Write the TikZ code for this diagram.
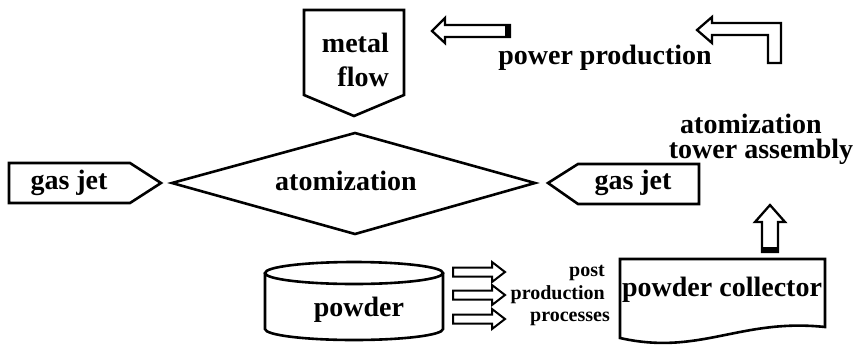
\documentclass[tikz,border=0pt]{standalone}
\usepackage{fontspec}
\setmainfont{Liberation Serif}
\begin{document}
\begin{tikzpicture}[
        x=1pt, y=-1pt,
        font=\bfseries\fontsize{28}{30}\selectfont,
        outline/.style={
            draw=black, line width=2.6pt,
            line join=miter, fill=white
        },
        blockarr/.style={
            draw=black, line width=2.3pt,
            line join=miter, fill=white
        },
        plug/.style={fill=black},
        txt/.style={inner sep=0pt, align=center},
        smalltxt/.style={
            inner sep=0pt, anchor=east,
            font=\bfseries\fontsize{20}{22}\selectfont
        }
    ]

    % canvas
    \fill[white] (0,0) rectangle (856,346);
    \useasboundingbox (0,0) rectangle (856,346);

    % Metal flow on top
    \draw[outline] (304,10) -- (404,10) -- (404,95) -- (354,116)
        -- (304,95) -- cycle;
    \node[txt, align=right, anchor=east,
          font=\bfseries\fontsize{28}{34}\selectfont]
        (metal) at (389,60) {metal\\flow};

    % Atomization diamond
    \draw[outline] (172,183) -- (355,133) -- (535,183) -- (355,234) -- cycle;
    \node[txt] (atom) at (346,181) {atomization};

    % Gas jets
    \draw[outline] (9,163) -- (130,163) -- (161,183) -- (130,203)
        -- (9,203) -- cycle;
    \node[txt] (jetl) at (69,183) {gas jet};
    \draw[outline] (548,183) -- (578,164) -- (699,164) -- (699,204)
        -- (578,204) -- cycle;
    \node[txt] (jetr) at (633,183) {gas jet};

    % Power production arrows
    \draw[blockarr] (432,31) -- (445,18) -- (445,25) -- (510,25)
        -- (510,37) -- (445,37) -- (445,43) -- cycle;
    \fill[plug] (505,25) rectangle (510,37);
    \draw[blockarr] (697,30) -- (712,17) -- (712,23) -- (781,23)
        -- (781,63) -- (768,63) -- (768,35) -- (712,35) -- (712,43) -- cycle;
    \node[txt] (power) at (605,58) {power production};

    % Tower assembly
    \node[inner sep=0pt, anchor=base, text depth=0pt]
        (tower1) at (751,133) {atomization};
    \node[inner sep=0pt, anchor=base, text height=18pt]
        (tower2) at (761,158) {tower assembly};
    \draw[blockarr] (770,205) -- (785,222) -- (778,222) -- (778,252)
        -- (762,252) -- (762,222) -- (755,222) -- cycle;
    \fill[plug] (762,247) rectangle (778,252);

    % Powder cylinder
    \draw[outline] (265,273) -- (265,329)
        arc[start angle=180, end angle=0, x radius=89, y radius=11]
        -- (443,273);
    \draw[outline] (354,273) ellipse [x radius=89, y radius=11];
    \node[txt] (powder) at (359,310) {powder};

    % Post production arrows
    \foreach \yy in {272,295,319}
        \draw[blockarr, line width=2pt] (453,\yy-4.5) -- (492,\yy-4.5)
            -- (492,\yy-10) -- (505,\yy) -- (492,\yy+10)
            -- (492,\yy+4.5) -- (453,\yy+4.5) -- cycle;
    \node[smalltxt] (post) at (605,273) {post};
    \node[smalltxt] (prod) at (605,295) {production};
    \node[smalltxt] (proc) at (610,319) {processes};

    % Powder collector
    \draw[outline] (620,259) -- (825,259) -- (825,327)
        .. controls (740,318) and (700,356) .. (620,338) -- cycle;
    \node[txt] (coll) at (722,290) {powder collector};

\end{tikzpicture}
\end{document}
